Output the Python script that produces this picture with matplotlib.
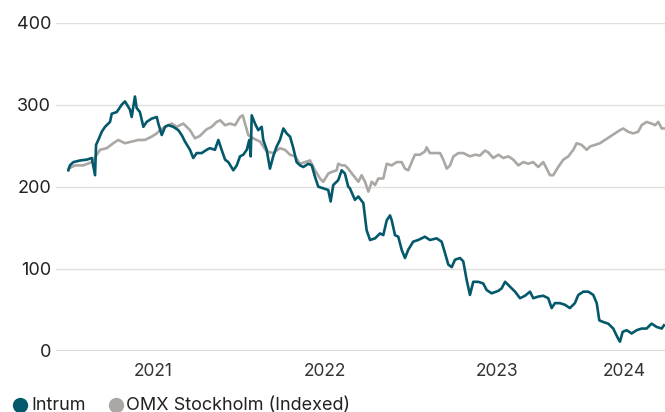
import matplotlib.pyplot as plt
from matplotlib.lines import Line2D

# x = years since 2021-01-01 (fractional)
intrum_t = [0.008, 0.017, 0.037, 0.076, 0.115, 0.144, 0.163, 0.169, 0.182, 0.202,
            0.221, 0.250, 0.260, 0.289, 0.318, 0.337, 0.366, 0.376, 0.395, 0.405,
            0.424, 0.444, 0.463, 0.492, 0.522, 0.531, 0.551, 0.570, 0.589, 0.618,
            0.647, 0.667, 0.686, 0.715, 0.734, 0.754, 0.783, 0.812, 0.831, 0.860,
            0.880, 0.899, 0.919, 0.938, 0.967, 0.987, 1.006, 1.025, 1.045, 1.060,
            1.068, 1.074, 1.093, 1.112, 1.132, 1.141, 1.161, 1.180, 1.199, 1.219,
            1.238, 1.258, 1.277, 1.297, 1.316, 1.335, 1.355, 1.374, 1.403, 1.423,
            1.442, 1.461, 1.490, 1.519, 1.533, 1.548, 1.577, 1.597, 1.616, 1.635,
            1.645, 1.674, 1.694, 1.723, 1.742, 1.762, 1.791, 1.820, 1.839, 1.859,
            1.878, 1.888, 1.907, 1.926, 1.946, 1.965, 1.984, 2.013, 2.042, 2.081,
            2.110, 2.149, 2.178, 2.198, 2.217, 2.237, 2.256, 2.285, 2.304, 2.324,
            2.343, 2.362, 2.391, 2.420, 2.440, 2.469, 2.508, 2.527, 2.547, 2.576,
            2.605, 2.634, 2.663, 2.692, 2.711, 2.740, 2.769, 2.798, 2.818, 2.837,
            2.866, 2.895, 2.924, 2.953, 2.973, 3.002, 3.031, 3.060, 3.080, 3.095,
            3.118, 3.147, 3.176, 3.199, 3.215, 3.231, 3.254, 3.283, 3.312, 3.341,
            3.370, 3.399, 3.428, 3.458, 3.471]
intrum = [220, 226, 230, 232, 233, 235, 214, 251, 257, 267,
          273, 279, 289, 291, 300, 304, 294, 285, 310, 296,
          291, 273, 279, 283, 285, 277, 263, 273, 275, 273,
          269, 263, 255, 245, 235, 241, 241, 245, 247, 245,
          257, 245, 233, 230, 220, 226, 237, 239, 245, 257,
          237, 287, 277, 269, 273, 257, 245, 222, 237, 249,
          257, 271, 265, 261, 247, 230, 226, 224, 228, 226,
          212, 200, 198, 196, 182, 202, 208, 220, 216, 200,
          198, 184, 188, 180, 147, 135, 137, 143, 141, 159,
          165, 159, 141, 139, 123, 113, 123, 133, 135, 139,
          135, 137, 133, 119, 105, 102, 111, 113, 109, 86,
          68, 84, 84, 82, 74, 70, 73, 76, 84, 78,
          72, 64, 67, 72, 64, 66, 67, 64, 52, 58,
          58, 56, 52, 58, 68, 72, 72, 68, 58, 37,
          35, 33, 27, 17, 11, 23, 25, 21, 25, 27,
          27, 33, 29, 27, 31]

omx_t = [0.008, 0.047, 0.095, 0.144, 0.173, 0.192, 0.231, 0.269, 0.298, 0.337,
         0.376, 0.415, 0.453, 0.492, 0.522, 0.541, 0.570, 0.609, 0.638, 0.676,
         0.715, 0.744, 0.773, 0.812, 0.841, 0.870, 0.890, 0.919, 0.948, 0.977,
         1.006, 1.022, 1.035, 1.054, 1.083, 1.122, 1.161, 1.199, 1.238, 1.267,
         1.297, 1.326, 1.355, 1.384, 1.413, 1.442, 1.471, 1.490, 1.519, 1.539,
         1.568, 1.577, 1.597, 1.616, 1.635, 1.664, 1.694, 1.713, 1.733, 1.752,
         1.772, 1.791, 1.810, 1.839, 1.859, 1.888, 1.917, 1.946, 1.965, 1.984,
         2.004, 2.023, 2.052, 2.081, 2.091, 2.110, 2.140, 2.169, 2.188, 2.208,
         2.227, 2.247, 2.276, 2.304, 2.343, 2.372, 2.401, 2.430, 2.449, 2.478,
         2.508, 2.537, 2.566, 2.595, 2.624, 2.653, 2.682, 2.711, 2.740, 2.769,
         2.789, 2.808, 2.827, 2.856, 2.886, 2.915, 2.944, 2.963, 2.992, 3.022,
         3.041, 3.070, 3.099, 3.128, 3.157, 3.186, 3.215, 3.234, 3.263, 3.292,
         3.321, 3.341, 3.370, 3.399, 3.419, 3.438, 3.458, 3.477]
omx = [222, 226, 226, 230, 239, 245, 247, 253, 257, 253,
       255, 257, 257, 261, 265, 269, 273, 277, 273, 277,
       269, 259, 262, 270, 273, 279, 281, 275, 277, 275,
       285, 287, 277, 263, 259, 255, 243, 241, 247, 245,
       239, 237, 228, 230, 232, 220, 210, 206, 216, 218,
       220, 228, 226, 226, 222, 214, 206, 214, 206, 194,
       206, 202, 210, 210, 228, 226, 230, 230, 222, 220,
       230, 239, 239, 243, 248, 241, 241, 241, 233, 222,
       226, 237, 241, 241, 237, 239, 238, 244, 242, 235,
       239, 235, 237, 233, 226, 230, 228, 230, 224, 230,
       222, 214, 214, 224, 233, 237, 245, 253, 251, 245,
       249, 251, 253, 257, 261, 265, 269, 271, 267, 265,
       267, 275, 279, 277, 275, 279, 271, 271]

year_labels = ["2021", "2022", "2023", "2024"]
year_pos = [0.5, 1.5, 2.5, 3.24]
y_ticks = [0, 100, 200, 300, 400]

intrum_color = "#03596b"
omx_color = "#aaa7a4"

plt.rcParams["font.family"] = ["Inter", "DejaVu Sans"]

fig = plt.figure(figsize=(6.65, 4.12), dpi=100)
ax = fig.add_axes([56 / 665, 61.3 / 412, 609 / 665, 328 / 412])

ax.plot(omx_t, omx, color=omx_color, lw=1.9, zorder=2)
ax.plot(intrum_t, intrum, color=intrum_color, lw=1.9, zorder=3)

ax.set_xlim(-0.064, 3.477)
ax.set_ylim(0, 400)
ax.set_yticks(y_ticks)
ax.set_xticks(year_pos)
ax.set_xticklabels(year_labels)
for s in ax.spines.values():
    s.set_visible(False)
for y in y_ticks[1:]:
    ax.axhline(y, color="#e3dfdc", lw=1, zorder=0)
ax.axhline(0, color="#dcd8d4", lw=2.2, zorder=1)
ax.tick_params(axis="y", length=0, pad=3.5, labelsize=13, labelcolor="#222222")
ax.tick_params(axis="x", length=0, pad=9, labelsize=12.5, labelcolor="#333333")

# legend along the bottom edge
leg_y = 7 / 412
fig.add_artist(Line2D([20 / 665], [leg_y], marker="o", ms=10, color=intrum_color,
                      lw=0, transform=fig.transFigure))
fig.text(31 / 665, leg_y, "Intrum", fontsize=13, color="#222222", va="center")
fig.add_artist(Line2D([116 / 665], [leg_y], marker="o", ms=10, color=omx_color,
                      lw=0, transform=fig.transFigure))
fig.text(126 / 665, leg_y, "OMX Stockholm (Indexed)", fontsize=13,
         color="#222222", va="center")

fig.savefig("out.png", dpi=100)
